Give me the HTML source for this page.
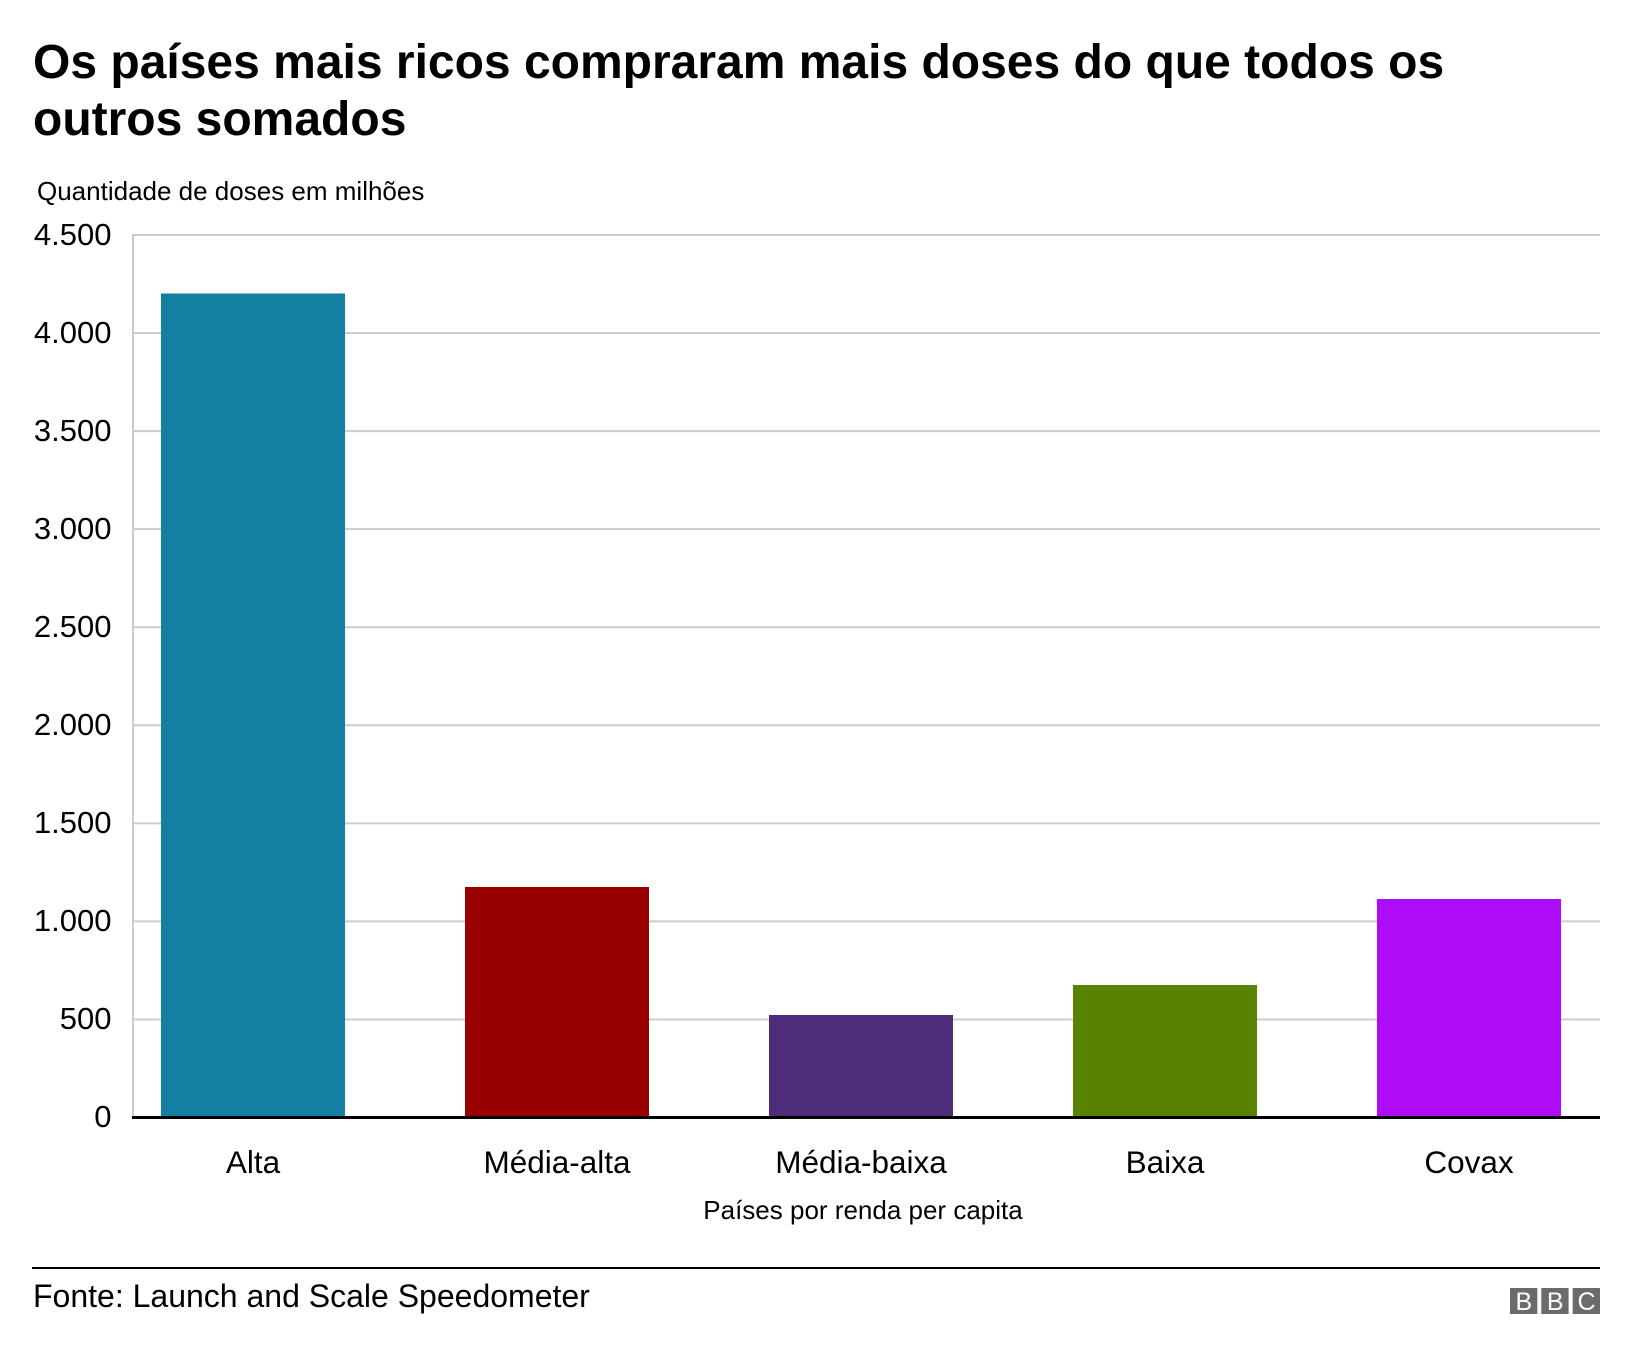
<!DOCTYPE html>
<html>
<head>
<meta charset="utf-8">
<style>
  html, body { margin: 0; padding: 0; background: #ffffff; }
  svg { display: block; }
  text { font-family: "Liberation Sans", Arial, sans-serif; fill: #000; }
</style>
</head>
<body>
<svg width="1632" height="1356" viewBox="0 0 1632 1356" xmlns="http://www.w3.org/2000/svg">
  <rect x="0" y="0" width="1632" height="1356" fill="#ffffff"/>

  <!-- Title -->
  <text x="33" y="78" font-size="48" font-weight="bold">Os países mais ricos compraram mais doses do que todos os</text>
  <text x="33" y="135" font-size="48" font-weight="bold">outros somados</text>

  <!-- Subtitle -->
  <text x="37" y="200" font-size="26">Quantidade de doses em milhões</text>

  <!-- Gridlines -->
  <g stroke="#cccccc" stroke-width="2">
    <line x1="132" y1="235" x2="1600" y2="235"/>
    <line x1="132" y1="333.06" x2="1600" y2="333.06"/>
    <line x1="132" y1="431.12" x2="1600" y2="431.12"/>
    <line x1="132" y1="529.18" x2="1600" y2="529.18"/>
    <line x1="132" y1="627.24" x2="1600" y2="627.24"/>
    <line x1="132" y1="725.3" x2="1600" y2="725.3"/>
    <line x1="132" y1="823.36" x2="1600" y2="823.36"/>
    <line x1="132" y1="921.42" x2="1600" y2="921.42"/>
    <line x1="132" y1="1019.48" x2="1600" y2="1019.48"/>
    <line x1="133" y1="234" x2="133" y2="1117"/>
  </g>

  <!-- Y labels -->
  <g font-size="31" text-anchor="end">
    <text x="111.5" y="245">4.500</text>
    <text x="111.5" y="343">4.000</text>
    <text x="111.5" y="441">3.500</text>
    <text x="111.5" y="539">3.000</text>
    <text x="111.5" y="637">2.500</text>
    <text x="111.5" y="735">2.000</text>
    <text x="111.5" y="833">1.500</text>
    <text x="111.5" y="931">1.000</text>
    <text x="111.5" y="1029">500</text>
    <text x="111.5" y="1127">0</text>
  </g>

  <!-- Bars -->
  <rect x="161" y="293.5" width="184" height="822.5" fill="#1380A1"/>
  <rect x="465" y="887" width="184" height="229" fill="#990000"/>
  <rect x="769" y="1015" width="184" height="101" fill="#4E2C79"/>
  <rect x="1073" y="985" width="184" height="131" fill="#588300"/>
  <rect x="1377" y="899" width="184" height="217" fill="#AE0BF8"/>

  <!-- X axis -->
  <rect x="132" y="1116" width="1468" height="3" fill="#000"/>

  <!-- Category labels -->
  <g font-size="31.5" text-anchor="middle">
    <text x="253" y="1173">Alta</text>
    <text x="557" y="1173">Média-alta</text>
    <text x="861" y="1173">Média-baixa</text>
    <text x="1165" y="1173">Baixa</text>
    <text x="1469" y="1173">Covax</text>
  </g>

  <!-- X axis title -->
  <text x="863" y="1219" font-size="26" text-anchor="middle">Países por renda per capita</text>

  <!-- Footer -->
  <rect x="32" y="1267" width="1568" height="2" fill="#000"/>
  <text x="33" y="1307" font-size="32">Fonte: Launch and Scale Speedometer</text>

  <!-- BBC logo -->
  <g>
    <rect x="1510" y="1288" width="27.3" height="26" fill="#6b6b6b"/>
    <rect x="1541.3" y="1288" width="27.3" height="26" fill="#6b6b6b"/>
    <rect x="1572.7" y="1288" width="27.3" height="26" fill="#6b6b6b"/>
    <g font-size="25" text-anchor="middle">
      <text x="1523.9" y="1310" style="fill:#ffffff">B</text>
      <text x="1555.2" y="1310" style="fill:#ffffff">B</text>
      <text x="1586.5" y="1310" style="fill:#ffffff">C</text>
    </g>
  </g>
</svg>
</body>
</html>
